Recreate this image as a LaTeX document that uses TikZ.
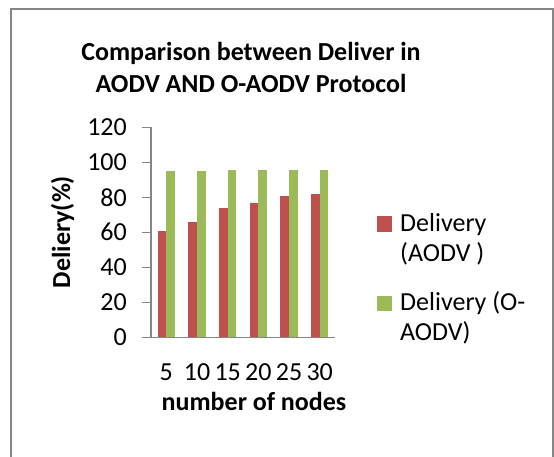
\documentclass[tikz,border=0pt]{standalone}
\usepackage{fontspec}
\setmainfont{Carlito}
\usepackage{tikz}
\usetikzlibrary{calc}
\definecolor{aodvred}{HTML}{C0504D}
\definecolor{oaodvgreen}{HTML}{9BBB59}
\definecolor{axisgray}{HTML}{868686}

\begin{document}
\begin{tikzpicture}
	[x=1pt,y=-1pt,every node/.style={inner sep=0pt,font=\fontsize{26}{30}\selectfont}]
	\tikzstyle{axis} = [axisgray, line width=1.5pt];
	\tikzstyle{key} = [minimum size=15pt, inner sep=0pt];
	\tikzstyle{heading} = [font=\bfseries\fontsize{26}{32}\selectfont, align=center];
	\tikzstyle{axistitle} = [font=\bfseries\fontsize{26}{30}\selectfont];

	\useasboundingbox (0,0) rectangle (554,457);
	\draw[axis] (11,9) rectangle (553,470);

	% title (base = last line)
	\node[heading, anchor=base] (title) at (251,92.7) {Comparison between Deliver in\\AODV AND O-AODV Protocol};

	% bars: red = AODV, green = O-AODV
	\foreach \i/\n/\r/\g in {1/5/61/95,2/10/66/95,3/15/74/95.4,4/20/77/95.4,5/25/81/95.8,6/30/82/95.8} {
		\pgfmathsetmacro{\cx}{151+(\i-0.5)*30.67}
		\fill[aodvred] (\cx-8.7,337.3) rectangle (\cx,337.3-1.75*\r);
		\fill[oaodvgreen] (\cx,337.3) rectangle (\cx+8.7,337.3-1.75*\g);
		\node (c\i) at (\cx,372.5) {\n};
	}

	% axes
	\coordinate (o) at (151,337.3);
	\coordinate (ytop) at (151,127.3);
	\coordinate (x0) at (142,337.3);
	\coordinate (xend) at (335,337.3);
	\draw[axis] (o) -- (ytop);
	\draw[axis] (x0) -- (xend);
	\foreach \v in {0,20,...,120} {
		\coordinate (t\v) at ($(o)+(0,-1.75*\v)$);
		\draw[axis] (t\v) -- ++(-9,0);
		\node[anchor=east] (l\v) at ($(t\v)+(-24,0)$) {\v};
	}

	\node[axistitle, rotate=90] (ytitle) at (62.5,232) {Deliery(\%)};
	\node[axistitle] (xtitle) at (254,401.5) {number of nodes};

	% legend
	\node[key, fill=aodvred] (k1) at (384.5,224) {};
	\node[key, fill=oaodvgreen] (k2) at (384.5,303.5) {};
	\node[anchor=base west, align=left] (e1) at (400,261) {Delivery\\(AODV )};
	\node[anchor=base west, align=left] (e2) at (400,340.7) {Delivery (O-\\AODV)};
\end{tikzpicture}
\end{document}
